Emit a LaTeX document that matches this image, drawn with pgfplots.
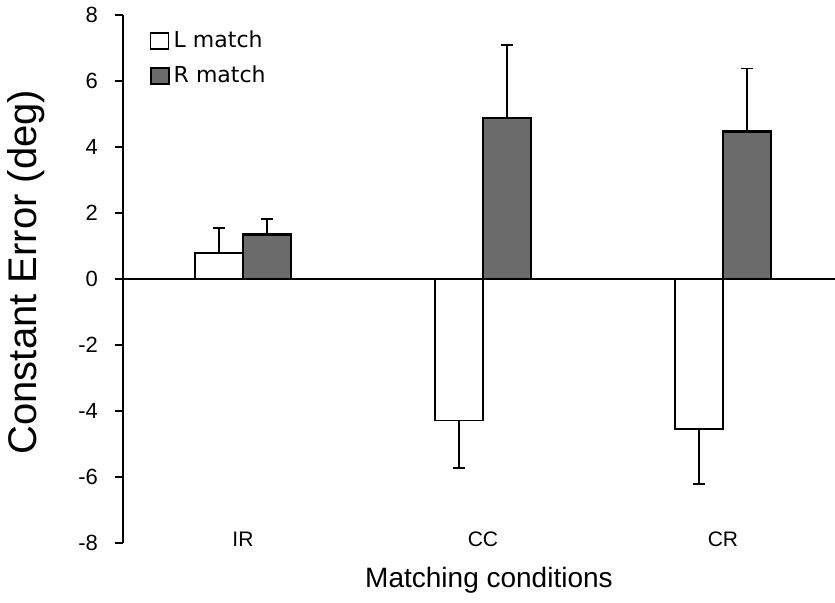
\documentclass[border=0pt]{standalone}
\usepackage{fontspec}
\setmainfont{Liberation Sans}
\newfontfamily\dejavu{DejaVu Sans}
\usepackage{pgfplots}
\pgfplotsset{compat=1.18}
\definecolor{Rfill}{HTML}{6B6B6B}

\begin{document}
\begin{tikzpicture}
\begin{axis}[
  name=ax,
  scale only axis, width=356pt, height=264pt,
  xmin=-0.5, xmax=2.467, ymin=-8, ymax=8,
  axis x line*=bottom, axis y line*=left,
  axis line style={-, line width=1pt},
  x axis line style={draw=none},
  xtick={0,1,2}, xticklabels={IR,CC,CR},
  xtick style={draw=none},
  ytick={-8,-6,...,8},
  tick align=outside, major tick length=4pt,
  ytick style={line width=0.9pt, black},
  /pgf/number format/assume math mode=true,
  yticklabel style={font=\fontsize{11}{12}\selectfont, xshift=-5pt},
  xticklabel style={font=\fontsize{10.5}{12}\selectfont, anchor=center, yshift=6pt},
  ylabel={Constant Error (deg)},
  ylabel style={font=\fontsize{20}{23}\selectfont, at={(axis description cs:-0.136,0.513)}, anchor=center},
  xlabel={Matching conditions},
  xlabel style={font=\fontsize{14}{16}\selectfont, at={(axis description cs:0.514,-0.071)}, anchor=center},
  legend style={at={(0.037,0.978)}, anchor=north west, draw=none, fill=none,
    inner sep=0pt, font=\dejavu\fontsize{11}{13}\selectfont, row sep=3.5pt},
  legend cell align=left,
]
\addplot[ybar, bar width=0.2, bar shift=0, fill=white, draw=black, line width=0.7pt,
  legend image code/.code={\draw[fill=white,draw=black,line width=0.7pt] (0pt,-4pt) rectangle (9pt,4pt);},
  error bars/.cd, y dir=both, y explicit,
  error bar style={line width=0.8pt, black},
  error mark options={rotate=90, mark size=3pt, line width=0.8pt, black}]
  coordinates {
    (-0.1,0.79) += (0,0.76) -= (0,0)
    (0.9,-4.29) += (0,0)    -= (0,1.44)
    (1.9,-4.54) += (0,0)    -= (0,1.68)
  };
\addplot[ybar, bar width=0.2, bar shift=0, fill=Rfill, draw=black, line width=1.4pt,
  legend image code/.code={\draw[fill=Rfill,draw=black,line width=1pt] (0pt,-4pt) rectangle (9pt,4pt);},
  error bars/.cd, y dir=both, y explicit,
  error bar style={line width=0.8pt, black},
  error mark options={rotate=90, mark size=3pt, line width=0.8pt, black}]
  coordinates {
    (0.1,1.36) += (0,0.46) -= (0,0)
    (1.1,4.88) += (0,2.21) -= (0,0)
    (2.1,4.46) += (0,1.92) -= (0,0)
  };
\addplot[black, line width=0.75pt, forget plot] coordinates {(-0.5,0) (2.467,0)};
\legend{L match, R match}
\end{axis}
\pgfresetboundingbox
\path (ax.south west) ++(-61.5pt,-30pt) rectangle ++(417.5pt,301.5pt);
\end{tikzpicture}
\end{document}
